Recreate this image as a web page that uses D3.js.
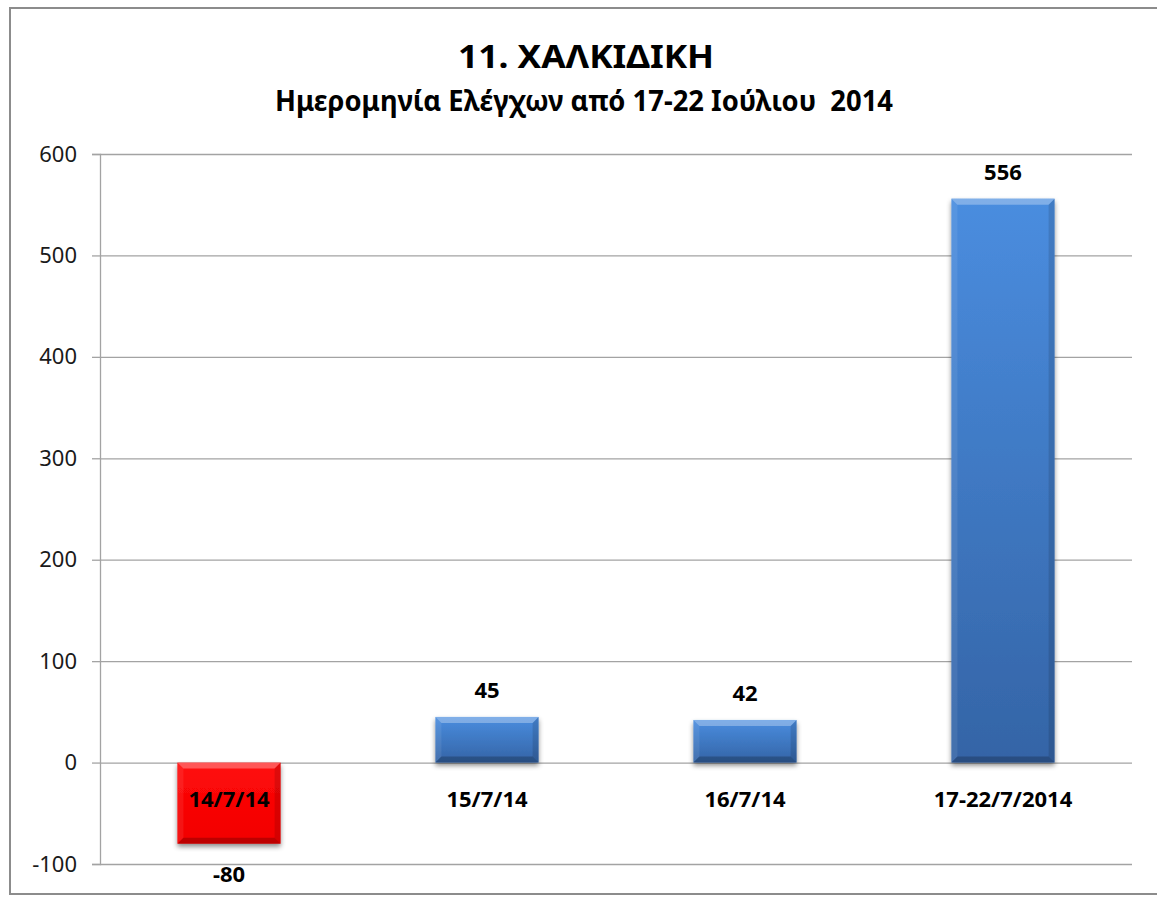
<!DOCTYPE html>
<html>
<head>
<meta charset="utf-8">
<script src="https://cdn.jsdelivr.net/npm/d3@7"></script>
<style>
  body { margin: 0; background: #fff; }
  text { font-family: "Noto Sans", "Open Sans", sans-serif; white-space: pre; }
</style>
</head>
<body>
<div id="viz"></div>
<script>
// chart data
var title = "11. ΧΑΛΚΙΔΙΚΗ";
var subtitle = "Ημερομηνία Ελέγχων από 17-22 Ιούλιου  2014";
var categories = ["14/7/14", "15/7/14", "16/7/14", "17-22/7/2014"];
var values = [-80, 45, 42, 556];
var yTicks = [-100, 0, 100, 200, 300, 400, 500, 600];

var width = 1157, height = 897;
var plot = {left: 100, right: 1132, top: 154, bottom: 864};

var svg = d3.select("#viz")
  .append("svg")
  .attr("width", width)
  .attr("height", height);

var defs = svg.append("defs");

// drop shadow under the bars
var shadow = defs.append("filter")
  .attr("id", "shadow")
  .attr("x", "-20%").attr("y", "-20%")
  .attr("width", "140%").attr("height", "140%");
shadow.append("feDropShadow")
  .attr("dx", 0).attr("dy", 3)
  .attr("stdDeviation", 2.5)
  .attr("flood-color", "#000")
  .attr("flood-opacity", 0.45);

// body gradients
function addGradient(id, stops) {
  var g = defs.append("linearGradient")
    .attr("id", id)
    .attr("x1", 0).attr("y1", 0).attr("x2", 0).attr("y2", 1);
  stops.forEach(function(s) {
    g.append("stop").attr("offset", s[0]).attr("stop-color", s[1]);
  });
}
addGradient("blueBody", [["0%", "#4a8ddf"], ["100%", "#3464a6"]]);
addGradient("redBody", [["0%", "#ff0a0a"], ["100%", "#f20000"]]);

// outer frame
svg.append("rect")
  .attr("x", 10).attr("y", 8)
  .attr("width", 1160).attr("height", 886)
  .attr("fill", "#fff")
  .attr("stroke", "#8c8c8c")
  .attr("stroke-width", 2);

// titles
svg.append("text")
  .attr("x", 586).attr("y", 68)
  .attr("text-anchor", "middle")
  .attr("font-size", 32)
  .attr("font-weight", "bold")
  .attr("fill", "#000")
  .attr("textLength", 256)
  .attr("lengthAdjust", "spacingAndGlyphs")
  .text(title);

svg.append("text")
  .attr("x", 584).attr("y", 111)
  .attr("text-anchor", "middle")
  .attr("font-size", 28)
  .attr("font-weight", "bold")
  .attr("fill", "#000")
  .attr("textLength", 618)
  .attr("lengthAdjust", "spacingAndGlyphs")
  .text(subtitle);

// scales
var x = d3.scaleBand()
  .domain(categories)
  .range([plot.left, plot.right])
  .paddingInner(0.6)
  .paddingOuter(0.3);

var y = d3.scaleLinear()
  .domain([-100, 600])
  .range([plot.bottom, plot.top]);

// gridlines
var grid = svg.append("g")
  .attr("transform", "translate(" + plot.left + ",0)")
  .call(d3.axisLeft(y).tickValues(yTicks).tickSize(-(plot.right - plot.left)).tickFormat(""));
grid.select(".domain").remove();
grid.selectAll(".tick line").attr("stroke", "#a3a3a3").attr("stroke-width", 1.3);

// y axis
var yAxis = svg.append("g")
  .attr("transform", "translate(" + plot.left + ",0)")
  .call(d3.axisLeft(y).tickValues(yTicks).tickSize(8).tickPadding(15).tickFormat(function(d) { return String(d); }));
yAxis.select(".domain").attr("stroke", "#a3a3a3").attr("stroke-width", 1.3);
yAxis.selectAll(".tick line").attr("stroke", "#a3a3a3").attr("stroke-width", 1.3);
yAxis.selectAll(".tick text")
  .attr("font-size", 22)
  .attr("fill", "#1a1a1a")
  .style("font-family", "'Noto Sans', sans-serif");

// bars
var bars = svg.selectAll("g.bar")
  .data(categories.map(function(c, i) { return {cat: c, value: values[i]}; }))
  .enter()
  .append("g")
  .attr("class", "bar");

function barBox(d) {
  var x0 = x(d.cat), x1 = x0 + x.bandwidth();
  var y0 = Math.min(y(d.value), y(0)), y1 = Math.max(y(d.value), y(0));
  return {x0: x0, x1: x1, y0: y0, y1: y1};
}

bars.append("rect")
  .attr("x", function(d) { return barBox(d).x0; })
  .attr("y", function(d) { return barBox(d).y0; })
  .attr("width", x.bandwidth())
  .attr("height", function(d) { var b = barBox(d); return b.y1 - b.y0; })
  .attr("fill", function(d) { return d.value < 0 ? "url(#redBody)" : "url(#blueBody)"; })
  .attr("filter", "url(#shadow)");

// bevel edges
var bevels = [
  {side: "top", fill: "#ffffff", opacity: 0.3},
  {side: "left", fill: "#ffffff", opacity: 0.08},
  {side: "right", fill: "#000000", opacity: 0.12},
  {side: "bottom", fill: "#000000", opacity: 0.22}
];
bevels.forEach(function(bv) {
  bars.append("polygon")
    .attr("points", function(d) {
      var b = barBox(d), s = Math.min(6, (b.y1 - b.y0) / 2);
      var p;
      if (bv.side == "top") p = [[b.x0, b.y0], [b.x1, b.y0], [b.x1 - s, b.y0 + s], [b.x0 + s, b.y0 + s]];
      if (bv.side == "bottom") p = [[b.x0, b.y1], [b.x1, b.y1], [b.x1 - s, b.y1 - s], [b.x0 + s, b.y1 - s]];
      if (bv.side == "left") p = [[b.x0, b.y0], [b.x0 + s, b.y0 + s], [b.x0 + s, b.y1 - s], [b.x0, b.y1]];
      if (bv.side == "right") p = [[b.x1, b.y0], [b.x1 - s, b.y0 + s], [b.x1 - s, b.y1 - s], [b.x1, b.y1]];
      return p.map(function(q) { return q.join(","); }).join(" ");
    })
    .attr("fill", bv.fill)
    .attr("fill-opacity", bv.opacity);
});

// value labels
bars.append("text")
  .attr("x", function(d) { return x(d.cat) + x.bandwidth() / 2; })
  .attr("y", function(d) { return d.value < 0 ? y(d.value) + 38 : y(d.value) - 19; })
  .attr("text-anchor", "middle")
  .attr("font-size", 22)
  .attr("font-weight", "bold")
  .attr("fill", "#000")
  .text(function(d) { return d.value; });

// category labels
svg.selectAll("text.cat")
  .data(categories)
  .enter()
  .append("text")
  .attr("class", "cat")
  .attr("x", function(d) { return x(d) + x.bandwidth() / 2; })
  .attr("y", y(0) + 44)
  .attr("text-anchor", "middle")
  .attr("font-size", 22)
  .attr("font-weight", "bold")
  .attr("fill", "#000")
  .text(function(d) { return d; });
</script>
</body>
</html>
